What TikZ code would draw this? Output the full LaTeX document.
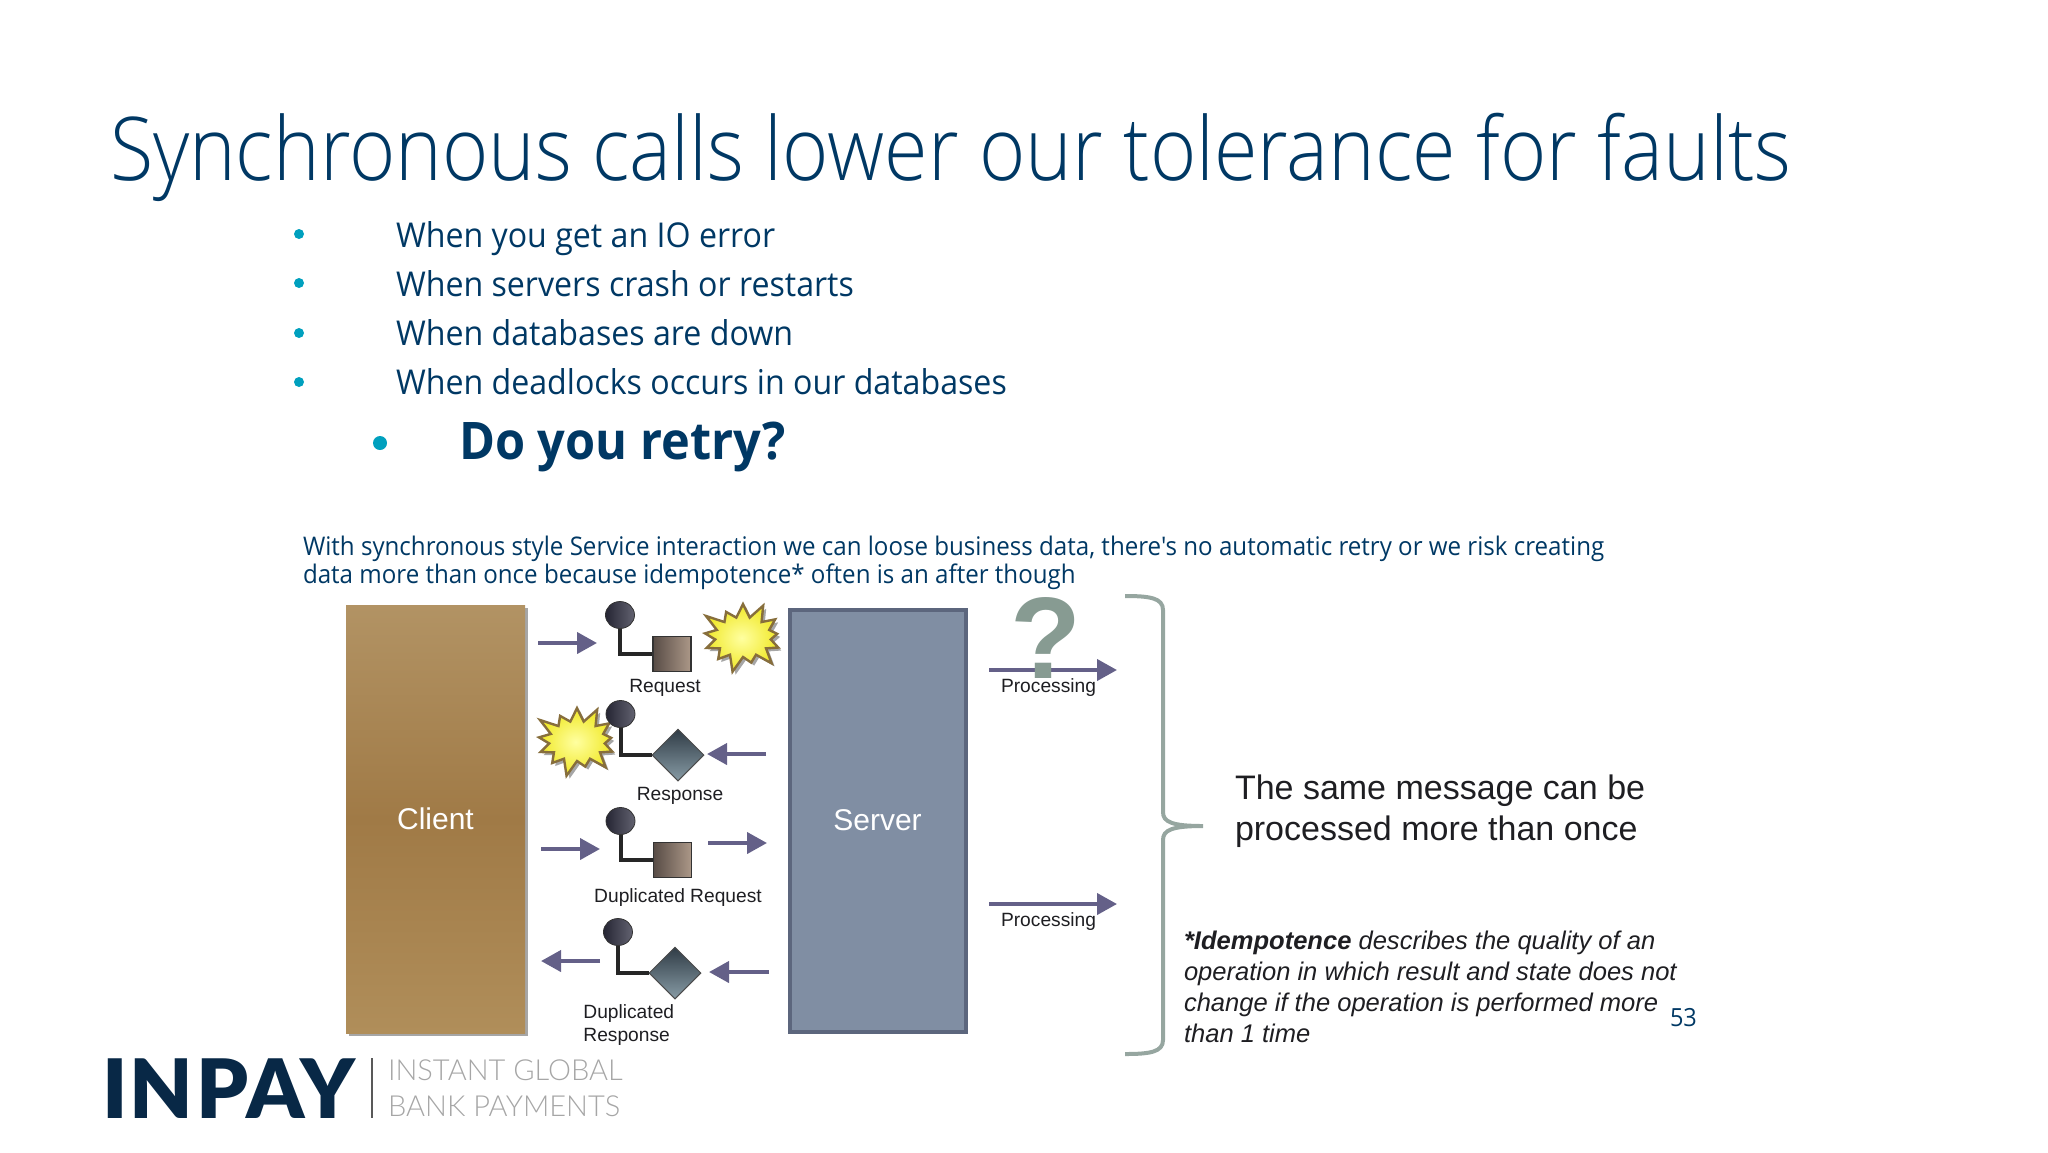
\documentclass[tikz,border=0pt]{standalone}
\usepackage{fontspec}
\setmainfont{Liberation Sans}
\newfontfamily\segoe[FakeStretch=0.94]{Open Sans}
\newfontfamily\segolight[FakeStretch=0.898]{Open Sans Light}
\newfontfamily\logofont[LetterSpace=3]{Lato Black}
\newfontfamily\logosub{Lato Light}
\usetikzlibrary{arrows.meta,shapes.geometric,shapes.symbols,shadows}
\definecolor{navy}{RGB}{0,56,100}
\definecolor{teal}{RGB}{0,160,190}
\definecolor{msgcol}{RGB}{100,96,136}
\definecolor{bracecol}{RGB}{150,166,160}
\definecolor{inkcol}{RGB}{30,30,34}
\tikzset{
  softshadow/.style={drop shadow={shadow xshift=1.5pt,shadow yshift=-1.5pt,opacity=.35,fill=black}},
  txt/.style={inner sep=0pt,outer sep=0pt,anchor=base west},
  slide/.style={txt,text=navy,font=\segoe\fontsize{17.1}{17.1}\selectfont},
  dotb/.style={circle,fill=teal,inner sep=0pt,minimum size=5pt},
  lbl/.style={inner sep=0pt,text=inkcol,font=\fontsize{9.6}{9.6}\selectfont},
  msg/.style={draw=msgcol,line width=2pt,-{Triangle[length=10pt,width=10.5pt]}},
  pin/.style={ellipse,draw=black!80,line width=.4pt,left color={rgb,255:red,38;green,38;blue,52},right color={rgb,255:red,98;green,98;blue,112},inner sep=0pt,minimum width=14.5pt,minimum height=13.5pt},
  wire/.style={draw=black!85,line width=2pt},
  msgbox/.style={rectangle,draw=black!80,line width=.8pt,left color={rgb,255:red,88;green,76;blue,70},right color={rgb,255:red,172;green,152;blue,136},inner sep=0pt,minimum width=19pt,minimum height=17.5pt},
  msgkite/.style={diamond,draw=black!70,line width=.5pt,shading angle=45,top color={rgb,255:red,48;green,60;blue,70},bottom color={rgb,255:red,135;green,155;blue,165},inner sep=0pt,minimum width=26pt,minimum height=26pt},
  bang/.style={starburst,starburst points=13,starburst point height=9pt,draw={rgb,255:red,135;green,110;blue,60},line width=1.2pt,inner color={rgb,255:red,255;green,255;blue,160},outer color={rgb,255:red,240;green,232;blue,40},inner sep=0pt,minimum width=46pt,minimum height=38pt,softshadow}
}
\begin{document}
\begin{tikzpicture}[x=0.5pt,y=-0.5pt]
\useasboundingbox (0,0) rectangle (2048,1152);

\node[txt,text=navy,font=\segolight\fontsize{44}{44}\selectfont] (title) at (110,180) {Synchronous calls lower our tolerance for faults};

\node[dotb] (b1) at (299,234) {};
\node[dotb] (b2) at (299,283) {};
\node[dotb] (b3) at (299,333) {};
\node[dotb] (b4) at (299,382) {};
\node[slide] (t1) at (396,247) {When you get an IO error};
\node[slide] (t2) at (396,296) {When servers crash or restarts};
\node[slide] (t3) at (396,345) {When databases are down};
\node[slide] (t4) at (396,394) {When deadlocks occurs in our databases};
\node[dotb,minimum size=7pt] (b5) at (380,443) {};
\node[txt,text=navy,font=\segoe\bfseries\fontsize{25.9}{25.9}\selectfont] (t5) at (459,459) {Do you retry?};

\node[txt,text=navy,font=\segoe\fontsize{12.83}{12.83}\selectfont] (para1) at (303,555) {With synchronous style Service interaction we can loose business data, there's no automatic retry or we risk creating};
\node[txt,text=navy,font=\segoe\fontsize{12.83}{12.83}\selectfont] (para2) at (303,583) {data more than once because idempotence* often is an after though};

% client and server
\node[shade,top color={rgb,255:red,178;green,147;blue,100},bottom color={rgb,255:red,176;green,142;blue,90},middle color={rgb,255:red,160;green,122;blue,70},inner sep=0pt,minimum width=89.5pt,minimum height=214pt,text=white,font=\fontsize{15}{15}\selectfont,softshadow] (client) at (435.5,819) {Client};
\node[draw={rgb,255:red,92;green,102;blue,125},fill={rgb,255:red,128;green,142;blue,163},line width=2pt,inner sep=0pt,minimum width=88pt,minimum height=211pt,text=white,font=\fontsize{15}{15}\selectfont] (server) at (877.5,820.5) {Server};

% request
\coordinate (r1a) at (538,643);
\coordinate (r1b) at (597,643);
\draw[msg] (r1a) -- (r1b);
\node[bang] (bang1) at (743,637) {};
\node[msgbox] (reqbox) at (672,654) {};
\draw[wire] (620,615) |- (reqbox);
\node[pin] (reqpin) at (620,615) {};
\node[lbl] (reqlbl) at (665,688) {Request};

% response
\node[bang] (bang2) at (577,741) {};
\node[msgkite] (respkite) at (678,755) {};
\draw[wire] (620.5,714) |- (respkite);
\node[pin] (resppin) at (620.5,714) {};
\coordinate (r2a) at (766,754);
\coordinate (r2b) at (707,754);
\draw[msg] (r2a) -- (r2b);
\node[lbl] (resplbl) at (680,796) {Response};

% duplicated request
\coordinate (r3a) at (541,849);
\coordinate (r3b) at (600,849);
\draw[msg] (r3a) -- (r3b);
\node[msgbox] (dupbox) at (672.5,860) {};
\draw[wire] (620.5,821) |- (dupbox);
\node[pin] (duppin) at (620.5,821) {};
\coordinate (r3c) at (708,843);
\coordinate (r3d) at (767,843);
\draw[msg] (r3c) -- (r3d);
\node[lbl] (duplbl) at (678,898) {Duplicated Request};

% duplicated response
\coordinate (r4a) at (769,972);
\coordinate (r4b) at (709,972);
\draw[msg] (r4a) -- (r4b);
\node[msgkite] (dupkite) at (675,973) {};
\draw[wire] (618,932) |- (dupkite);
\node[pin] (dup2pin) at (618,932) {};
\coordinate (r4c) at (600,961);
\coordinate (r4d) at (541,961);
\draw[msg] (r4c) -- (r4d);
\node[lbl,anchor=base west] (dup2a) at (583,1018) {Duplicated};
\node[lbl,anchor=base west] (dup2b) at (583,1041) {Response};

% processing
\coordinate (p1a) at (989,670);
\coordinate (p1b) at (1117,670);
\draw[msg] (p1a) -- (p1b);
\node[inner sep=0pt,text={rgb,255:red,135;green,155;blue,146},font=\bfseries\fontsize{58}{58}\selectfont,anchor=base] (quest) at (1046,678) {?};
\node[lbl] (proc1) at (1048.5,688) {Processing};
\coordinate (p2a) at (989,904);
\coordinate (p2b) at (1117,904);
\draw[msg] (p2a) -- (p2b);
\node[lbl] (proc2) at (1048.5,922) {Processing};

% brace
\draw[draw=bracecol,line width=2pt] (1125,596) .. controls (1150,596) and (1163,598) .. (1163,610) -- (1163,812) .. controls (1163,822) and (1172,826) .. (1203,826) .. controls (1172,826) and (1163,830) .. (1163,840) -- (1163,1040) .. controls (1163,1052) and (1150,1054) .. (1125,1054);

\node[txt,text=inkcol,font=\fontsize{17}{17}\selectfont] (same1) at (1235,799) {The same message can be};
\node[txt,text=inkcol,font=\fontsize{17}{17}\selectfont] (same2) at (1235,840) {processed more than once};

\node[txt,text=inkcol,font=\itshape\fontsize{12.77}{12.77}\selectfont] (idem1) at (1184,949) {{\bfseries *Idempotence} describes the quality of an};
\node[txt,text=inkcol,font=\itshape\fontsize{12.77}{12.77}\selectfont] (idem2) at (1184,980) {operation in which result and state does not};
\node[txt,text=inkcol,font=\itshape\fontsize{12.77}{12.77}\selectfont] (idem3) at (1184,1011) {change if the operation is performed more};
\node[txt,text=inkcol,font=\itshape\fontsize{12.77}{12.77}\selectfont] (idem4) at (1184,1042) {than 1 time};
\node[txt,text=navy,font=\segoe\fontsize{12.5}{12.5}\selectfont] (pageno) at (1670,1026) {53};

% logo
\node[txt,text={rgb,255:red,8;green,40;blue,70},font=\logofont\fontsize{41}{41}\selectfont] (inpay) at (102,1118) {INPAY};
\coordinate (sepa) at (372,1058);
\coordinate (sepb) at (372,1118);
\draw[black!65,line width=1pt] (sepa) -- (sepb);
\node[txt,text=black!35,font=\logosub\fontsize{14.5}{14.5}\selectfont] (sub1) at (388,1080) {INSTANT GLOBAL};
\node[txt,text=black!35,font=\logosub\fontsize{14.5}{14.5}\selectfont] (sub2) at (388,1116) {BANK PAYMENTS};
\end{tikzpicture}
\end{document}
